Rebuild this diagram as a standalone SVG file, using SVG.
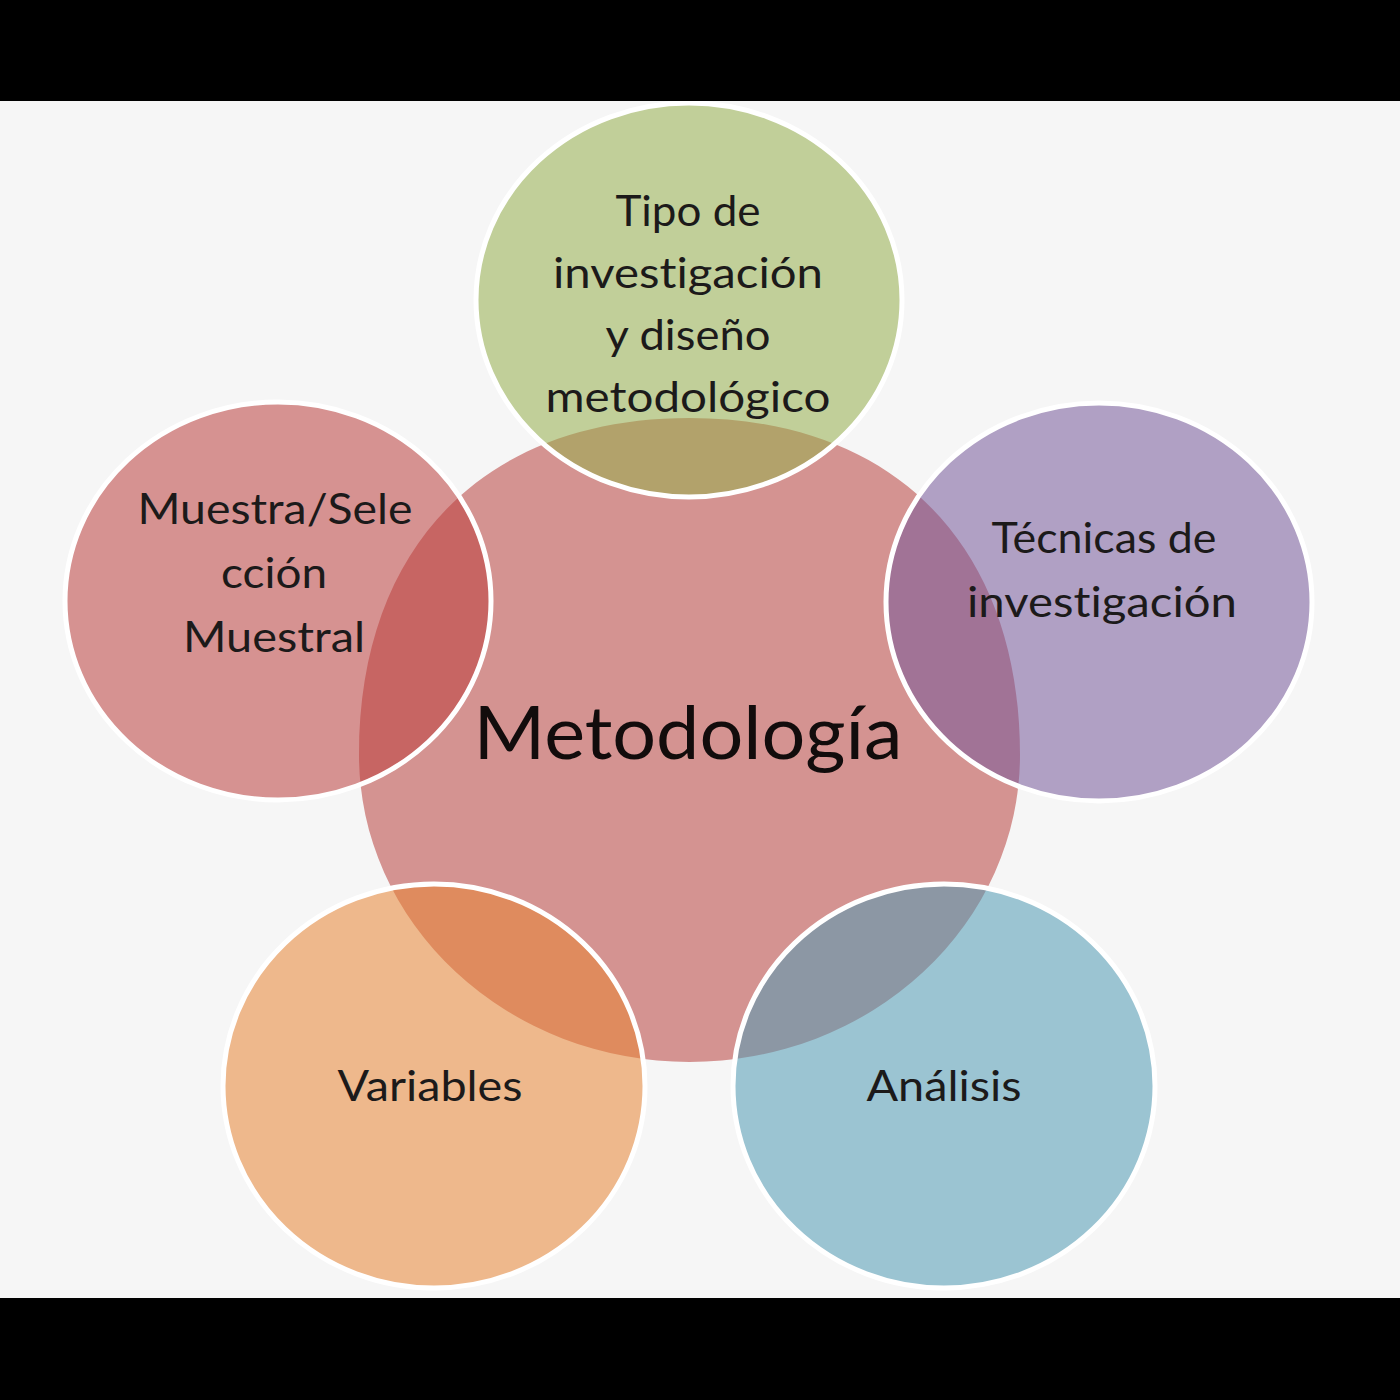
<svg xmlns="http://www.w3.org/2000/svg" width="1400" height="1400" viewBox="0 0 1400 1400">
  <style>
    .bg { fill: #f6f6f6; }
    .bar { fill: #000000; }
    .outer { stroke: #ffffff; stroke-width: 5; fill-opacity: 0.55; }
    .lbl { font-family: "Lato", "Noto Sans", sans-serif; font-size: 42px; fill: #1c1a1a; text-anchor: middle; font-variant-ligatures: none; font-feature-settings: "liga" 0, "clig" 0; }
    .main { font-family: "Lato", "Noto Sans", sans-serif; font-size: 74px; fill: #120c0c; text-anchor: middle; font-variant-ligatures: none; font-feature-settings: "liga" 0, "clig" 0; }
  </style>
  <rect class="bg" x="0" y="0" width="1400" height="1400"/>

  <g id="node-metodologia">
    <path fill="#d49391" d="M 359 755 C 359 546 484.5 418 689.5 418 C 894.5 418 1020 546 1020 755 A 330.5 307 0 0 1 359 755 Z"/>
  </g>

  <g id="node-tipo">
    <ellipse class="outer" fill="#96af4d" cx="689" cy="300" rx="213" ry="197"/>
    <text class="lbl" x="688" y="226" textLength="145" lengthAdjust="spacingAndGlyphs">Tipo de</text>
    <text class="lbl" x="688" y="288" textLength="270" lengthAdjust="spacingAndGlyphs">investigación</text>
    <text class="lbl" x="688" y="350" textLength="165" lengthAdjust="spacingAndGlyphs">y diseño</text>
    <text class="lbl" x="688" y="412" textLength="285" lengthAdjust="spacingAndGlyphs">metodológico</text>
  </g>

  <g id="node-muestra">
    <ellipse class="outer" fill="#bc403e" cx="278" cy="601" rx="213" ry="199"/>
    <text class="lbl" x="275" y="524" textLength="275" lengthAdjust="spacingAndGlyphs">Muestra/Sele</text>
    <text class="lbl" x="274" y="588" textLength="106" lengthAdjust="spacingAndGlyphs">cción</text>
    <text class="lbl" x="274" y="652" textLength="182" lengthAdjust="spacingAndGlyphs">Muestral</text>
  </g>

  <g id="node-tecnicas">
    <ellipse class="outer" fill="#775a9b" cx="1099" cy="602" rx="213" ry="199"/>
    <text class="lbl" x="1104" y="553" textLength="225" lengthAdjust="spacingAndGlyphs">Técnicas de</text>
    <text class="lbl" x="1102" y="617" textLength="270" lengthAdjust="spacingAndGlyphs">investigación</text>
  </g>

  <g id="node-variables">
    <ellipse class="outer" fill="#e78535" cx="434" cy="1086" rx="211" ry="202"/>
    <text class="lbl" x="430" y="1101" textLength="185" lengthAdjust="spacingAndGlyphs">Variables</text>
  </g>

  <g id="node-analisis">
    <ellipse class="outer" fill="#509bb4" cx="944" cy="1086" rx="211" ry="202"/>
    <text class="lbl" x="944" y="1101" textLength="155" lengthAdjust="spacingAndGlyphs">Análisis</text>
  </g>

  <g id="node-metodologia-label">
    <text class="main" x="688" y="759" textLength="429" lengthAdjust="spacingAndGlyphs">Metodología</text>
  </g>

  <g id="connectors"></g>

  <rect class="bar" x="0" y="0" width="1400" height="101"/>
  <rect class="bar" x="0" y="1298" width="1400" height="102"/>
</svg>
